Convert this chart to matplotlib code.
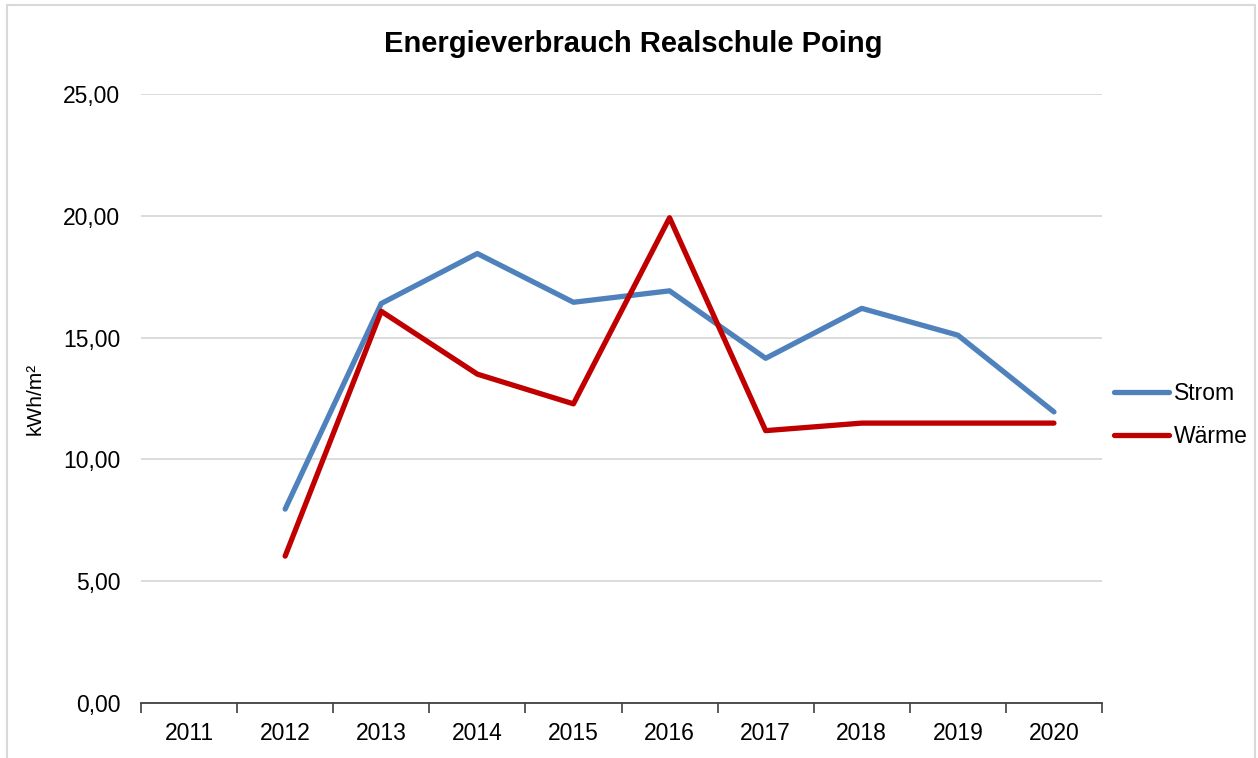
import numpy as np
import matplotlib
matplotlib.use("Agg")
import matplotlib.pyplot as plt
from matplotlib.ticker import FuncFormatter, FixedLocator
from matplotlib.patches import Rectangle

plt.rcParams['font.family'] = ['Liberation Sans', 'DejaVu Sans']

years = ['2011', '2012', '2013', '2014', '2015', '2016', '2017', '2018', '2019', '2020']
strom = [np.nan, 7.96, 16.40, 18.45, 16.45, 16.92, 14.15, 16.20, 15.10, 11.95]
waerme = [np.nan, 6.03, 16.08, 13.50, 12.28, 19.92, 11.18, 11.49, 11.49, 11.49]

fig = plt.figure(figsize=(12.58, 7.58), dpi=100)
# light frame around the chart, like the Excel chart area
fig.patches.append(Rectangle((7 / 1258, -0.01), 1248 / 1258, 1.01 - 5 / 758, transform=fig.transFigure,
                             fill=False, edgecolor='#d9d9d9', linewidth=1.5))

ax = fig.add_axes([141 / 1258, 1 - 703 / 758, (1102 - 141) / 1258, (703 - 94) / 758])

x = np.arange(len(years))
ax.plot(x, strom, color='#4f81bd', linewidth=3.8, label='Strom', solid_capstyle='round', solid_joinstyle='round')
ax.plot(x, waerme, color='#c00000', linewidth=3.8, label='Wärme', solid_capstyle='round', solid_joinstyle='round')

ax.set_xlim(-0.5, len(years) - 0.5)
ax.set_ylim(0, 25)
ax.set_yticks(np.arange(0, 26, 5))
ax.yaxis.set_major_formatter(FuncFormatter(lambda v, p: f"{v:.2f}".replace('.', ',')))
ax.grid(axis='y', color='#d9d9d9', linewidth=1.3)
ax.set_axisbelow(True)

# category labels between tick marks
ax.xaxis.set_major_locator(FixedLocator(np.arange(-0.5, len(years), 1)))
ax.xaxis.set_minor_locator(FixedLocator(x))
ax.set_xticklabels([])
ax.set_xticklabels(years, minor=True)
ax.tick_params(axis='x', which='major', length=7, width=1.2, color='#404040')
ax.tick_params(axis='x', which='minor', length=0, pad=14, labelsize=16.5)
ax.tick_params(axis='y', length=0, pad=15, labelsize=16.5)

for s in ['top', 'right', 'left']:
    ax.spines[s].set_visible(False)
ax.spines['bottom'].set_color('#404040')
ax.spines['bottom'].set_linewidth(1.3)

ax.set_ylabel('kWh/m²', fontsize=15)
ax.yaxis.set_label_coords(-0.1, 0.5)

fig.text(633 / 1258, 1 - 44 / 758, 'Energieverbrauch Realschule Poing', ha='center', va='center',
         fontsize=21, fontweight='bold')

ax.legend(loc='center left', bbox_to_anchor=(0.991, 0.473), frameon=False, fontsize=16.5,
          handlelength=2.4, handletextpad=0.2, labelspacing=0.88)

fig.savefig('out.png', dpi=100)
